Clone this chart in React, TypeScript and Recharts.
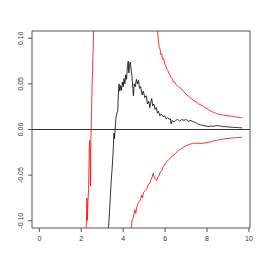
import { LineChart, Line, XAxis, YAxis, ReferenceLine, ReferenceArea } from 'recharts'

// estimate (black) — starts below the plot, peaks near x = 4.3
const estimate = [
  [3.28, -0.115], [3.35, -0.09], [3.42, -0.06], [3.48, -0.04], [3.53, -0.02], [3.56, -0.004],
  [3.58, -0.01], [3.62, 0.0], [3.65, 0.012], [3.7, 0.018], [3.74, 0.02], [3.77, 0.038],
  [3.8, 0.05], [3.84, 0.042], [3.88, 0.048], [3.92, 0.043], [3.96, 0.052], [4.0, 0.047],
  [4.04, 0.056], [4.08, 0.05], [4.12, 0.06], [4.16, 0.055], [4.2, 0.068], [4.24, 0.075],
  [4.27, 0.062], [4.3, 0.07], [4.34, 0.074], [4.38, 0.066], [4.42, 0.058], [4.46, 0.045],
  [4.49, 0.037], [4.53, 0.05], [4.58, 0.047], [4.63, 0.055], [4.68, 0.05], [4.73, 0.054],
  [4.78, 0.045], [4.83, 0.047], [4.9, 0.038], [4.96, 0.042], [5.03, 0.035], [5.1, 0.037],
  [5.16, 0.028], [5.22, 0.031], [5.27, 0.024], [5.32, 0.03], [5.36, 0.034], [5.41, 0.026],
  [5.46, 0.028], [5.52, 0.022], [5.58, 0.024], [5.63, 0.018], [5.68, 0.02], [5.75, 0.015],
  [5.82, 0.017], [5.9, 0.014], [5.98, 0.015], [6.05, 0.012], [6.12, 0.013], [6.2, 0.011],
  [6.25, 0.012], [6.29, 0.006], [6.34, 0.01], [6.42, 0.008], [6.5, 0.01], [6.6, 0.011],
  [6.7, 0.009], [6.8, 0.011], [6.9, 0.01], [7.0, 0.011], [7.1, 0.009], [7.2, 0.01],
  [7.3, 0.009], [7.4, 0.008], [7.5, 0.007], [7.6, 0.0055], [7.7, 0.005], [7.8, 0.0045],
  [7.9, 0.004], [8.0, 0.0035], [8.1, 0.0033], [8.2, 0.0038], [8.3, 0.0035], [8.4, 0.004],
  [8.5, 0.0042], [8.6, 0.004], [8.7, 0.0035], [8.8, 0.003], [8.9, 0.0032], [9.0, 0.0028],
  [9.1, 0.0026], [9.2, 0.0025], [9.3, 0.0023], [9.4, 0.0022], [9.5, 0.002], [9.6, 0.0019],
  [9.68, 0.0018],
]

// upper band, left part: crosses the whole plot near x = 2.3–2.6
const upperLeft = [
  [2.22, -0.12], [2.25, -0.095], [2.27, -0.075], [2.29, -0.1], [2.31, -0.085], [2.35, -0.065],
  [2.38, -0.02], [2.4, -0.012], [2.42, -0.03], [2.44, -0.062], [2.45, -0.02], [2.47, 0.0],
  [2.5, 0.03], [2.52, 0.05], [2.54, 0.065], [2.55, 0.075], [2.57, 0.09], [2.6, 0.12],
]

// upper band, right part: comes down from above the plot
const upperRight = [
  [5.6, 0.125], [5.64, 0.108], [5.68, 0.097], [5.72, 0.09], [5.76, 0.088], [5.8, 0.082],
  [5.84, 0.083], [5.88, 0.077], [5.93, 0.078], [5.98, 0.072], [6.03, 0.07], [6.08, 0.066],
  [6.13, 0.065], [6.18, 0.061], [6.23, 0.06], [6.28, 0.057], [6.34, 0.056], [6.4, 0.052],
  [6.46, 0.052], [6.52, 0.049], [6.58, 0.048], [6.64, 0.047], [6.7, 0.046], [6.76, 0.045],
  [6.82, 0.043], [6.88, 0.042], [6.95, 0.04], [7.02, 0.038], [7.1, 0.037], [7.18, 0.035],
  [7.26, 0.034], [7.34, 0.032], [7.42, 0.031], [7.5, 0.03], [7.6, 0.028], [7.7, 0.027],
  [7.8, 0.026], [7.9, 0.024], [8.0, 0.023], [8.1, 0.021], [8.2, 0.02], [8.3, 0.019],
  [8.4, 0.018], [8.5, 0.017], [8.6, 0.0165], [8.7, 0.016], [8.8, 0.0158], [8.9, 0.0155],
  [9.0, 0.015], [9.1, 0.0148], [9.2, 0.0145], [9.3, 0.014], [9.4, 0.0138], [9.5, 0.0133],
  [9.6, 0.013], [9.68, 0.0128],
]

// lower band: rises from below the plot
const lower = [
  [4.35, -0.115], [4.42, -0.1], [4.49, -0.096], [4.55, -0.088], [4.6, -0.092], [4.65, -0.085],
  [4.72, -0.08], [4.81, -0.078], [4.88, -0.072], [4.92, -0.075], [4.97, -0.069], [5.05, -0.067],
  [5.13, -0.065], [5.2, -0.06], [5.27, -0.059], [5.33, -0.055], [5.38, -0.052], [5.43, -0.048],
  [5.48, -0.053], [5.55, -0.054], [5.6, -0.056], [5.66, -0.052], [5.72, -0.05], [5.78, -0.046],
  [5.84, -0.045], [5.9, -0.041], [5.96, -0.039], [6.02, -0.037], [6.1, -0.035], [6.18, -0.033],
  [6.26, -0.031], [6.34, -0.029], [6.42, -0.028], [6.5, -0.026], [6.6, -0.024], [6.7, -0.022],
  [6.8, -0.021], [6.9, -0.019], [7.0, -0.0178], [7.1, -0.0168], [7.2, -0.016], [7.3, -0.0155],
  [7.4, -0.015], [7.5, -0.0152], [7.6, -0.015], [7.7, -0.0153], [7.8, -0.015], [7.9, -0.0148],
  [8.0, -0.0145], [8.1, -0.014], [8.2, -0.0132], [8.3, -0.0125], [8.4, -0.012], [8.5, -0.0117],
  [8.6, -0.0112], [8.7, -0.0108], [8.8, -0.0104], [8.9, -0.01], [9.0, -0.0098], [9.1, -0.0095],
  [9.2, -0.0093], [9.3, -0.0091], [9.4, -0.009], [9.5, -0.0088], [9.6, -0.0086], [9.68, -0.0084],
]

const xTicks = [0, 2, 4, 6, 8, 10]
const yTicks = [-0.1, -0.05, 0, 0.05, 0.1]

const X_DOMAIN: [number, number] = [-0.35, 10.05]
const Y_DOMAIN: [number, number] = [-0.108, 0.108]

const FONT = '"Liberation Sans", Arial, sans-serif'

const toPoints = (rows: number[][]) => rows.map(([x, y]) => ({ x, y }))

function YTick({ y, payload }: any) {
  const label = payload.value.toFixed(2)
  return (
    <text
      x={23}
      y={y}
      transform={`rotate(-90 23 ${y})`}
      textAnchor="middle"
      fontSize={7}
      fontFamily={FONT}
      fill="#333"
    >
      {label}
    </text>
  )
}

export default function App() {
  return (
    <div style={{ position: 'absolute', left: 0, top: 0, background: '#fff' }}>
      <LineChart width={267} height={267} margin={{ top: 31, right: 17, left: 0, bottom: 0 }}>
        <XAxis
          type="number"
          dataKey="x"
          domain={X_DOMAIN}
          ticks={xTicks}
          allowDataOverflow
          height={39}
          axisLine={false}
          tickSize={4}
          tickMargin={4}
          tickLine={{ stroke: '#555' }}
          tick={{ fontSize: 7, fontFamily: FONT, fill: '#333' }}
        />
        <YAxis
          type="number"
          dataKey="y"
          domain={Y_DOMAIN}
          ticks={yTicks}
          allowDataOverflow
          width={32}
          axisLine={false}
          tickSize={4}
          tickLine={{ stroke: '#555' }}
          tick={<YTick />}
        />
        <ReferenceArea
          x1={X_DOMAIN[0]}
          x2={X_DOMAIN[1]}
          y1={Y_DOMAIN[0]}
          y2={Y_DOMAIN[1]}
          fill="none"
          stroke="#555"
          strokeWidth={1}
        />
        <ReferenceLine y={0} stroke="#333" strokeWidth={1} />
        <Line data={toPoints(upperLeft)} dataKey="y" stroke="#ff0000" strokeWidth={0.8} dot={false} isAnimationActive={false} />
        <Line data={toPoints(upperRight)} dataKey="y" stroke="#ff0000" strokeWidth={0.8} dot={false} isAnimationActive={false} />
        <Line data={toPoints(lower)} dataKey="y" stroke="#ff0000" strokeWidth={0.8} dot={false} isAnimationActive={false} />
        <Line data={toPoints(estimate)} dataKey="y" stroke="#000" strokeWidth={0.8} dot={false} isAnimationActive={false} />
      </LineChart>
    </div>
  )
}
